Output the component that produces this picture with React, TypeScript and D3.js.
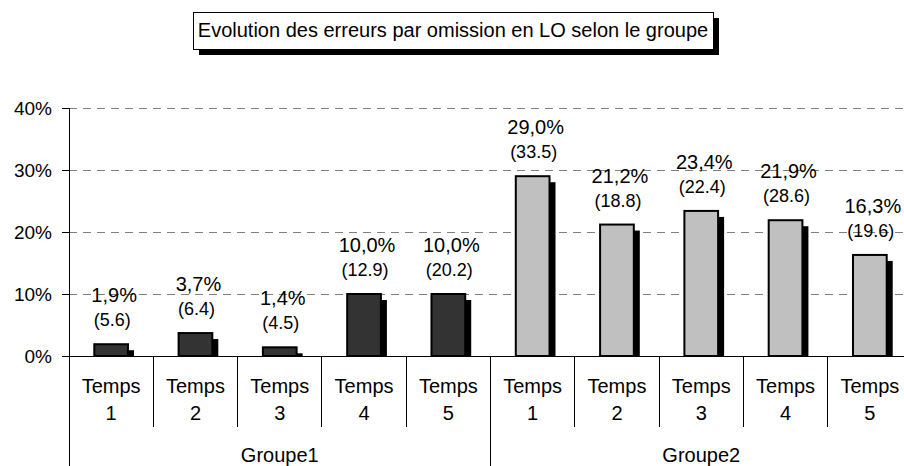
import React from "react";
import { scaleBand, scaleLinear } from "d3";

const title = "Evolution des erreurs par omission en LO selon le groupe";
const groups = ["Groupe1", "Groupe2"];
const times = ["1", "2", "3", "4", "5"];
const groupe1Values = [1.9, 3.7, 1.4, 10.0, 10.0];
const groupe2Values = [29.0, 21.2, 23.4, 21.9, 16.3];
const groupe1Counts = [5.6, 6.4, 4.5, 12.9, 20.2];
const groupe2Counts = [33.5, 18.8, 22.4, 28.6, 19.6];
const yTicks = [0, 10, 20, 30, 40];
const groupColors = ["#333333", "#c0c0c0"];

const W = 904;
const H = 466;
const left = 69;
const step = 84.3;
const font = "Arial, 'Liberation Sans', sans-serif";

type Bar = {
  key: string;
  group: number;
  time: string;
  value: number;
  count: number;
};

const bars: Bar[] = [
  ...times.map((t, i) => ({
    key: `g1-${t}`,
    group: 0,
    time: t,
    value: groupe1Values[i],
    count: groupe1Counts[i],
  })),
  ...times.map((t, i) => ({
    key: `g2-${t}`,
    group: 1,
    time: t,
    value: groupe2Values[i],
    count: groupe2Counts[i],
  })),
];

export default function App() {
  const x = scaleBand<string>()
    .domain(bars.map((b) => b.key))
    .range([left, left + step * bars.length])
    .paddingInner(0)
    .paddingOuter(0);

  const y = scaleLinear().domain([0, 40]).range([356, 108]);
  const bw = x.bandwidth() * 0.4;
  const base = y(0);

  const groupX = (g: number) => x(bars[g * times.length].key)!;
  const groupEnd = (g: number) =>
    x(bars[g * times.length + times.length - 1].key)! + x.bandwidth();

  return (
    <svg
      width={W}
      height={H}
      style={{ position: "absolute", left: 0, top: 0, background: "#fff" }}
      fontFamily={font}
    >
      <rect width={W} height={H} fill="#fff" />

      {/* title box */}
      <rect x={199} y={18} width={520} height={37} fill="#000" />
      <rect
        x={193.5}
        y={12.5}
        width={520}
        height={37}
        fill="#fff"
        stroke="#000"
      />
      <text x={453} y={37} textAnchor="middle" fontSize={20}>
        {title}
      </text>

      {/* grid */}
      <g shapeRendering="crispEdges">
        {yTicks
          .filter((t) => t > 0)
          .map((t) => (
            <line
              key={t}
              x1={left}
              x2={W}
              y1={y(t)}
              y2={y(t)}
              stroke="#808080"
              strokeDasharray="8,6"
            />
          ))}
      </g>

      {/* bars */}
      {bars.map((b) => {
        const bx = x(b.key)! + (x.bandwidth() - bw) / 2;
        const top = y(b.value);
        return (
          <g key={b.key}>
            <rect
              x={bx + 6}
              y={top + 6}
              width={bw}
              height={Math.max(0, base - top - 6)}
              fill="#000"
            />
            <rect
              x={bx}
              y={top}
              width={bw}
              height={base - top}
              fill={groupColors[b.group]}
              stroke="#000"
              strokeWidth={2}
            />
            <text
              x={bx + bw / 2 + 3}
              y={top - 42}
              textAnchor="middle"
              fontSize={20}
            >
              {b.value.toFixed(1).replace(".", ",") + "%"}
            </text>
            <text
              x={bx + bw / 2 + 1}
              y={top - 18}
              textAnchor="middle"
              fontSize={18}
            >
              {"(" + b.count.toFixed(1) + ")"}
            </text>
          </g>
        );
      })}

      <g shapeRendering="crispEdges">
        {/* y axis */}
        <line x1={left} x2={left} y1={y(40)} y2={H} stroke="#000" />
        {yTicks.map((t) => (
          <line
            key={t}
            x1={left - 7}
            x2={left}
            y1={y(t)}
            y2={y(t)}
            stroke="#000"
          />
        ))}
        {/* x axis */}
        <line x1={left} x2={W} y1={base} y2={base} stroke="#000" />
        {bars.map((b, i) => {
          const edge = x(b.key)! + x.bandwidth();
          const isGroupEnd = (i + 1) % times.length === 0;
          return (
            <line
              key={b.key + "-sep"}
              x1={edge}
              x2={edge}
              y1={base}
              y2={isGroupEnd ? H : 427}
              stroke="#000"
            />
          );
        })}
      </g>

      {yTicks.map((t) => (
        <text key={t} x={52} y={y(t) + 7} textAnchor="end" fontSize={19}>
          {t + "%"}
        </text>
      ))}

      {bars.map((b) => {
        const cx = x(b.key)! + x.bandwidth() / 2;
        return (
          <g key={b.key + "-lab"}>
            <text x={cx} y={393} textAnchor="middle" fontSize={20}>
              Temps
            </text>
            <text x={cx} y={420} textAnchor="middle" fontSize={20}>
              {b.time}
            </text>
          </g>
        );
      })}
      {groups.map((g, gi) => (
        <text
          key={g}
          x={(groupX(gi) + groupEnd(gi)) / 2}
          y={462}
          textAnchor="middle"
          fontSize={20}
        >
          {g}
        </text>
      ))}
    </svg>
  );
}
